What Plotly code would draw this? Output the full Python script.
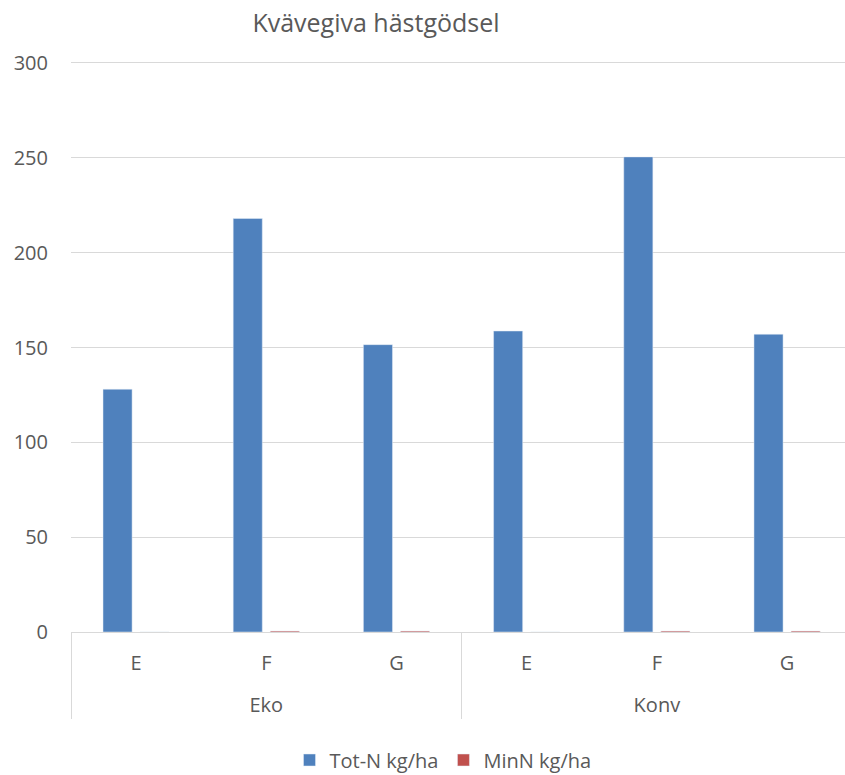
import plotly.graph_objects as go

# Nitrogen applied with horse manure, per farming system and site
systems = ["Eko", "Eko", "Eko", "Konv", "Konv", "Konv"]
sites = ["E", "F", "G", "E", "F", "G"]
tot_n = [128, 218, 151.5, 158.7, 250.5, 157]
min_n = [0, 0.5, 0.5, 0, 0.5, 0.5]

y_ticks = [0, 50, 100, 150, 200, 250, 300]

FONT = "Open Sans"
TEXT = "#595959"
GRID = "#D9D9D9"

# outer level labels get a blank first line so they sit one row lower
outer = ["<br>" + s for s in systems]
x_levels = [outer, sites]

fig = go.Figure()
fig.add_trace(go.Bar(name="Tot-N kg/ha", x=x_levels, y=tot_n,
                     marker_color="#4F81BD"))
fig.add_trace(go.Bar(name="MinN kg/ha", x=x_levels, y=min_n,
                     marker_color="#C0504D"))

fig.update_layout(
    width=845, height=775,
    margin=dict(l=71, r=0, t=63, b=143),
    paper_bgcolor="white", plot_bgcolor="white",
    font=dict(family=FONT, size=20, color=TEXT),
    title=dict(text="Kvävegiva hästgödsel", x=376 / 845, xanchor="center",
               y=1 - 23 / 775, yanchor="middle",
               font=dict(family=FONT, size=25, color=TEXT)),
    barmode="group", bargap=0.43, bargroupgap=0.216,
    legend=dict(orientation="h", xref="container", yref="container",
                x=443 / 845, xanchor="center", y=15 / 775, yanchor="middle",
                font=dict(size=20, color=TEXT)),
    showlegend=True,
)
fig.update_xaxes(type="multicategory", range=[-0.5, 5.445],
                 showline=True, linecolor=GRID, linewidth=1, mirror=True,
                 showdividers=True, dividercolor=GRID, dividerwidth=1,
                 ticks="", ticklabelstandoff=13,
                 tickfont=dict(size=20, color=TEXT),
                 showgrid=False)
fig.update_yaxes(range=[0, 300], tickvals=y_ticks, showgrid=True,
                 gridcolor=GRID, gridwidth=1, zeroline=False,
                 ticks="", ticklabelstandoff=22,
                 tickfont=dict(size=20, color=TEXT))

fig.write_html("out.html")
